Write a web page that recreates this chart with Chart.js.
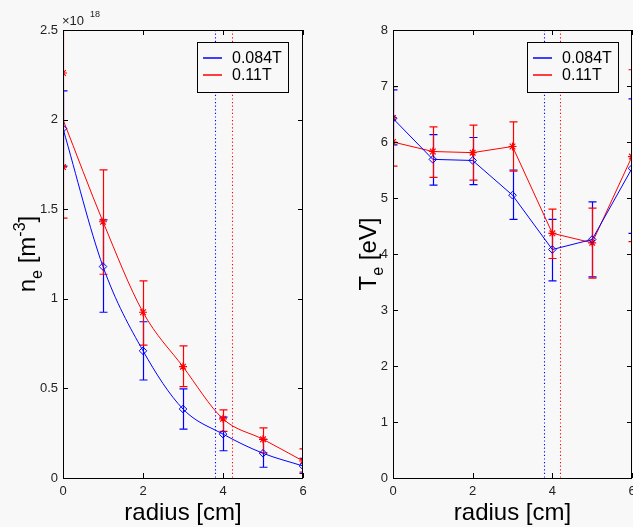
<!DOCTYPE html>
<html>
<head>
<meta charset="utf-8">
<script src="https://cdn.jsdelivr.net/npm/chart.js@4/dist/chart.umd.min.js"></script>
<style>
html, body { margin: 0; padding: 0; background: #f8f8f8; width: 633px; height: 527px; overflow: hidden; }
#ne { position: absolute; left: 0; top: 0; }
#te { position: absolute; left: 320px; top: 0; }
</style>
</head>
<body>
<canvas id="ne" width="320" height="527" style="width:320px;height:527px"></canvas>
<canvas id="te" width="330" height="527" style="width:330px;height:527px"></canvas>
<script>
var radius = [0, 1, 2, 3, 4, 5, 6];
var seriesLabels = ['0.084T', '0.11T'];

// n_e in units of 1e18 m^-3
var neLow = [1.95, 1.18, 0.71, 0.385, 0.245, 0.138, 0.067];
var neLowMin = [1.74, 0.925, 0.547, 0.273, 0.152, 0.06, 0.025];
var neLowMax = [2.16, 1.44, 0.872, 0.497, 0.34, 0.215, 0.11];
var neHigh = [2.0, 1.43, 0.925, 0.621, 0.33, 0.216, 0.095];
var neHighMin = [1.45, 1.137, 0.742, 0.51, 0.26, 0.141, 0.033];
var neHighMax = [2.55, 1.72, 1.10, 0.737, 0.38, 0.28, 0.162];
var neHighExtra = [2.26, 1.735];

// T_e in eV
var teLow = [6.42, 5.69, 5.67, 5.05, 4.08, 4.26, 5.53];
var teLowMin = [5.95, 5.23, 5.24, 4.62, 3.52, 3.59, 4.37];
var teLowMax = [6.93, 6.13, 6.08, 5.50, 4.62, 4.93, 6.77];
var teHigh = [6.0, 5.83, 5.81, 5.92, 4.37, 4.20, 5.74];
var teHighMin = [5.57, 5.37, 5.32, 5.48, 3.92, 3.57, 4.22];
var teHighMax = [6.99, 6.27, 6.30, 6.36, 4.80, 4.82, 7.29];
var teHighExtra = [6.43];

// dotted edge lines (radius, cm) for each field
var edgeNe = [3.8, 4.22];
var edgeTe = [3.8, 4.2];

var radiusTicks = [0, 2, 4, 6];
var neTicks = [0, 0.5, 1, 1.5, 2, 2.5];
var teTicks = [0, 1, 2, 3, 4, 5, 6, 7, 8];

var BLUE = '#0000ff';
var RED = '#ff0000';
var FONT = "'Liberation Sans', Arial, Helvetica, sans-serif";
Chart.defaults.font.family = FONT;

function pts(ys) {
  return ys.map(function (y, i) { return { x: radius[i], y: y }; });
}

function errBars(ctx, c, ys, lo, hi, color) {
  var sx = c.scales.x, sy = c.scales.y;
  ctx.strokeStyle = color;
  ctx.lineWidth = 1.2;
  for (var i = 0; i < lo.length; i++) {
    var px = Math.round(sx.getPixelForValue(radius[i])) + 0.5;
    var a = sy.getPixelForValue(lo[i]), b = sy.getPixelForValue(hi[i]);
    ctx.beginPath();
    ctx.moveTo(px, a); ctx.lineTo(px, b);
    ctx.moveTo(px - 4, a); ctx.lineTo(px + 4, a);
    ctx.moveTo(px - 4, b); ctx.lineTo(px + 4, b);
    ctx.stroke();
  }
}

function richV(ctx, parts, bx, cy) {
  var total = 0;
  parts.forEach(function (p) {
    ctx.font = p.s + 'px ' + FONT;
    p.w = ctx.measureText(p.t).width;
    total += p.w;
  });
  ctx.save();
  ctx.translate(bx, cy);
  ctx.rotate(-Math.PI / 2);
  ctx.fillStyle = '#000';
  ctx.textBaseline = 'alphabetic';
  ctx.textAlign = 'left';
  var x = -total / 2;
  parts.forEach(function (p) {
    ctx.font = p.s + 'px ' + FONT;
    ctx.fillText(p.t, x, p.dy || 0);
    x += p.w;
  });
  ctx.restore();
}

function panel(id, o) {
  var deco = {
    id: 'deco',
    beforeDatasetsDraw: function (c) {
      var ctx = c.ctx, a = c.chartArea, sx = c.scales.x;
      ctx.save();
      ctx.beginPath();
      ctx.rect(a.left, a.top, a.right - a.left, a.bottom - a.top);
      ctx.clip();
      // dotted edge lines
      ctx.lineWidth = 1.1;
      ctx.setLineDash([1.2, 2.4]);
      [BLUE, RED].forEach(function (col, k) {
        var px = Math.round(sx.getPixelForValue(o.edge[k])) + 0.5;
        ctx.strokeStyle = col;
        ctx.beginPath();
        ctx.moveTo(px, a.top); ctx.lineTo(px, a.bottom);
        ctx.stroke();
      });
      ctx.setLineDash([]);
      errBars(ctx, c, o.blue, o.blueMin, o.blueMax, BLUE);
      errBars(ctx, c, o.red, o.redMin, o.redMax, RED);
      ctx.restore();
    },
    afterDatasetsDraw: function (c) {
      var ctx = c.ctx, a = c.chartArea, sx = c.scales.x, sy = c.scales.y;
      ctx.save();
      ctx.strokeStyle = '#000';
      ctx.lineWidth = 1;
      ctx.strokeRect(a.left + 0.5, a.top + 0.5, a.right - a.left - 1, a.bottom - a.top);
      ctx.beginPath();
      o.yTicks.forEach(function (v) {
        var py = Math.round(sy.getPixelForValue(v)) + 0.5;
        ctx.moveTo(a.left, py); ctx.lineTo(a.left + 5, py);
        ctx.moveTo(a.right, py); ctx.lineTo(a.right - 5, py);
      });
      radiusTicks.forEach(function (v) {
        var px = Math.round(sx.getPixelForValue(v)) + 0.5;
        ctx.moveTo(px, a.bottom); ctx.lineTo(px, a.bottom - 5);
        ctx.moveTo(px, a.top); ctx.lineTo(px, a.top + 5);
      });
      ctx.stroke();

      // legend
      var lx = a.left + 134, ly = 42;
      ctx.fillStyle = '#f8f8f8';
      ctx.fillRect(lx, ly, 91, 50);
      ctx.strokeRect(lx + 0.5, ly + 0.5, 91, 50);
      ctx.font = '16px ' + FONT;
      ctx.textBaseline = 'middle';
      ctx.textAlign = 'left';
      [BLUE, RED].forEach(function (col, k) {
        var yy = ly + 16 + k * 17;
        ctx.strokeStyle = col;
        ctx.lineWidth = 1.5;
        ctx.beginPath();
        ctx.moveTo(lx + 6, yy); ctx.lineTo(lx + 25, yy);
        ctx.stroke();
        ctx.fillStyle = '#000';
        ctx.fillText(seriesLabels[k], lx + 35, yy + 1);
      });

      // axis titles
      ctx.fillStyle = '#000';
      ctx.font = '24px ' + FONT;
      ctx.textAlign = 'center';
      ctx.textBaseline = 'middle';
      ctx.fillText('radius [cm]', (a.left + a.right) / 2, 513);
      richV(ctx, o.yTitle, o.yTitleX, (a.top + a.bottom) / 2);

      if (o.exponent) {
        ctx.textAlign = 'left';
        ctx.textBaseline = 'alphabetic';
        ctx.font = '13px ' + FONT;
        ctx.fillStyle = '#222';
        ctx.fillText('\u00d710', a.left - 1, 25);
        ctx.font = '9px ' + FONT;
        ctx.fillText('18', a.left + 27, 17);
      }
      ctx.restore();
    }
  };

  return new Chart(document.getElementById(id), {
    type: 'line',
    data: {
      datasets: [
        {
          label: seriesLabels[0], data: pts(o.blue), borderColor: BLUE, borderWidth: 1,
          pointStyle: 'rectRot', pointRadius: 3.8, pointBorderColor: BLUE, pointBorderWidth: 1,
          pointBackgroundColor: 'rgba(0,0,0,0)', cubicInterpolationMode: o.smooth ? 'monotone' : 'default',
          tension: 0, fill: false
        },
        {
          label: seriesLabels[1], data: pts(o.red), borderColor: RED, borderWidth: 1,
          pointStyle: 'star', pointRadius: o.redRadius, pointBorderColor: RED, pointBorderWidth: 1.2,
          cubicInterpolationMode: o.smooth ? 'monotone' : 'default', tension: 0, fill: false
        },
        {
          type: 'scatter', data: o.redExtra.map(function (y) { return { x: 0, y: y }; }),
          showLine: false, pointStyle: 'star', pointRadius: 4, pointBorderColor: RED,
          pointBorderWidth: 1.2, borderColor: RED
        }
      ]
    },
    options: {
      responsive: false,
      animation: false,
      devicePixelRatio: 1,
      layout: { padding: { top: 30, right: o.padRight, bottom: 0, left: 0 } },
      plugins: { legend: { display: false }, tooltip: { enabled: false } },
      scales: {
        x: {
          type: 'linear', min: 0, max: 6,
          grid: { display: false, drawTicks: false }, border: { display: false },
          afterBuildTicks: function (s) { s.ticks = radiusTicks.map(function (v) { return { value: v }; }); },
          afterFit: function (s) { s.height = 49; },
          ticks: { color: '#222', font: { size: 13 }, padding: 6, maxRotation: 0, autoSkip: false }
        },
        y: {
          type: 'linear', min: 0, max: o.yMax,
          grid: { display: false, drawTicks: false }, border: { display: false },
          afterBuildTicks: function (s) { s.ticks = o.yTicks.map(function (v) { return { value: v }; }); },
          afterFit: function (s) { s.width = o.yWidth; },
          ticks: { color: '#222', font: { size: 13 }, padding: 5, autoSkip: false,
            callback: function (v) { return String(v); } }
        }
      }
    },
    plugins: [deco]
  });
}

panel('ne', {
  blue: neLow, blueMin: neLowMin, blueMax: neLowMax,
  red: neHigh, redMin: neHighMin, redMax: neHighMax, redExtra: neHighExtra,
  redRadius: [0, 4, 4, 4, 4, 4, 4], edge: edgeNe, smooth: true,
  yMax: 2.5, yTicks: neTicks, yWidth: 63, padRight: 17, exponent: true, yTitleX: 35,
  yTitle: [{ t: 'n', s: 24 }, { t: 'e', s: 16, dy: 7 }, { t: ' [m', s: 24 }, { t: '-3', s: 16, dy: -10 }, { t: ']', s: 24 }]
});

panel('te', {
  blue: teLow, blueMin: teLowMin, blueMax: teLowMax,
  red: teHigh, redMin: teHighMin, redMax: teHighMax, redExtra: teHighExtra,
  redRadius: 4, edge: edgeTe, smooth: false,
  yMax: 8, yTicks: teTicks, yWidth: 73, padRight: 18, exponent: false, yTitleX: 56,
  yTitle: [{ t: 'T', s: 24 }, { t: 'e', s: 16, dy: 7 }, { t: ' [eV]', s: 24 }]
});
</script>
</body>
</html>
